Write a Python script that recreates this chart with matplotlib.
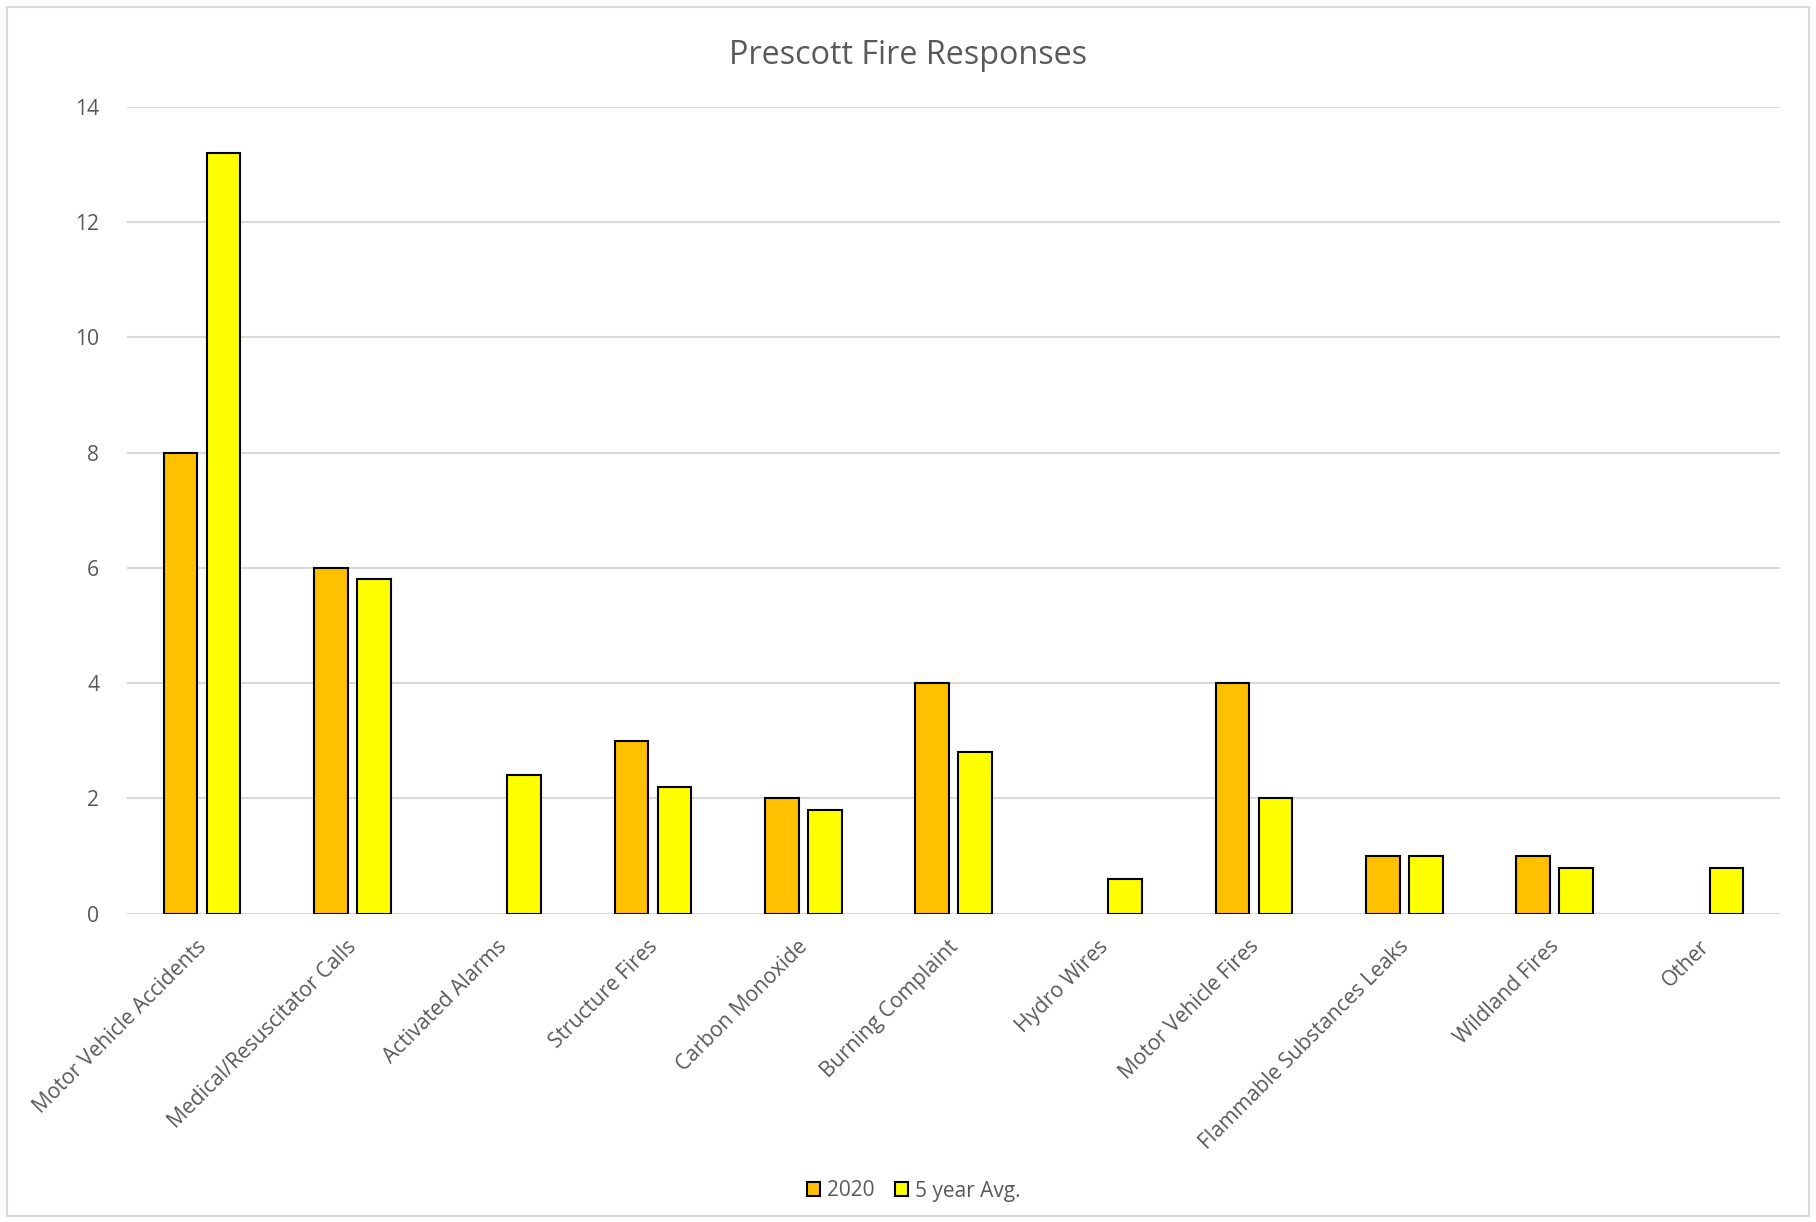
import matplotlib
matplotlib.use("Agg")
import matplotlib.pyplot as plt
import matplotlib.transforms as mtransforms
from matplotlib.patches import Rectangle
import numpy as np

# Response counts by call type
categories = [
    "Motor Vehicle Accidents",
    "Medical/Resuscitator Calls",
    "Activated Alarms",
    "Structure Fires",
    "Carbon Monoxide",
    "Burning Complaint",
    "Hydro Wires",
    "Motor Vehicle Fires",
    "Flammable Substances Leaks",
    "Wildland Fires",
    "Other",
]
responses_2020 = [8, 6, 0, 3, 2, 4, 0, 4, 1, 1, 0]
five_year_avg = [13.2, 5.8, 2.4, 2.2, 1.8, 2.8, 0.6, 2, 1, 0.8, 0.8]
y_ticks = [0, 2, 4, 6, 8, 10, 12, 14]

TEXT = "#595959"
GRID = "#D9D9D9"
plt.rcParams["font.family"] = ["Open Sans", "DejaVu Sans"]

fig = plt.figure(figsize=(18.16, 12.22), dpi=100)
ax = fig.add_axes([0.0699, 0.2522, 0.9103, 0.6606])

x = np.arange(len(categories))
width = 0.224
offset = 0.143


def bar_series(pos, values, color, label):
    bars = ax.bar(pos, values, width, color=color, edgecolor="black",
                  linewidth=1.5, label=label, zorder=3)
    # empty categories get no outline
    for b, v in zip(bars, values):
        if v == 0:
            b.set_linewidth(0)
    return bars


bar_series(x - offset, responses_2020, "#FFC000", "2020")
bar_series(x + offset, five_year_avg, "#FFFF00", "5 year Avg.")

ax.set_xlim(-0.5, len(categories) - 0.5)
ax.set_ylim(0, 14)
ax.set_yticks(y_ticks)
ax.yaxis.grid(True, color=GRID, linewidth=1.5, zorder=0)
ax.set_axisbelow(True)
for side in ["top", "right", "left", "bottom"]:
    ax.spines[side].set_visible(False)
ax.axhline(0, color=GRID, linewidth=1.5, zorder=1)

ax.tick_params(axis="both", length=0, colors=TEXT, labelsize=15.2)
ax.tick_params(axis="y", pad=20)
ax.set_xticks(x)
ax.set_xticklabels(categories, rotation=45, ha="right", va="top",
                   rotation_mode="anchor", color=TEXT)
ax.tick_params(axis="x", pad=16)
shift = mtransforms.ScaledTranslation(-6 / 100, 0, fig.dpi_scale_trans)
for lbl in ax.get_xticklabels():
    lbl.set_transform(lbl.get_transform() + shift)

fig.suptitle("Prescott Fire Responses", x=0.5, y=1 - 56 / 1222, va="center",
             fontsize=23.3, color=TEXT)

fig.legend(loc="center", bbox_to_anchor=(0.503, 1 - 1191 / 1222), ncol=2,
           frameon=False, fontsize=15, labelcolor=TEXT, handlelength=0.65,
           handleheight=0.65, handletextpad=0.3, columnspacing=1.0)

# chart area border
fig.patches.append(Rectangle((7 / 1816, 6 / 1222), 1802 / 1816, 1209 / 1222,
                             transform=fig.transFigure, fill=False,
                             edgecolor=GRID, linewidth=1.5))

fig.savefig("out.png", dpi=100, facecolor="white")
